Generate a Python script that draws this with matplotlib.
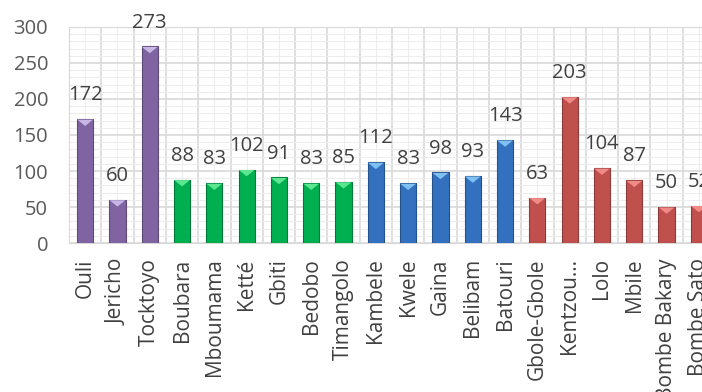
import matplotlib
matplotlib.use("Agg")
import matplotlib.pyplot as plt
import numpy as np
from matplotlib.ticker import MultipleLocator

categories = ["Ouli", "Jericho", "Tocktoyo", "Boubara", "Mboumama", "Ketté", "Gbiti",
              "Bedobo", "Timangolo", "Kambele", "Kwele", "Gaina", "Belibam", "Batouri",
              "Gbole-Gbole", "Kentzou…", "Lolo", "Mbile", "Bombe Bakary", "Bombe Sato"]
values = [172, 60, 273, 88, 83, 102, 91, 83, 85, 112, 83, 98, 93, 143, 63, 203, 104, 87, 50, 52]
groups = ["purple"] * 3 + ["green"] * 6 + ["blue"] * 5 + ["red"] * 6

colors = {"purple": "#8064A2", "green": "#00B050", "blue": "#3370BE", "red": "#C0504D"}
edges = {"purple": "#5E4A7A", "green": "#007A38", "blue": "#24528C", "red": "#8E3A38"}
tops = {"purple": "#C9B6E6", "green": "#5CE68F", "blue": "#7FC0F2", "red": "#F08A87"}

plt.rcParams['font.family'] = ['Open Sans', 'DejaVu Sans']

fig = plt.figure(figsize=(7.02, 3.92), dpi=100)
ax = fig.add_axes([69 / 702, 1 - 243 / 392, 646 / 702, 216 / 392])

x = np.arange(len(categories))
ax.bar(x, values, width=0.5, color=[colors[g] for g in groups],
       edgecolor=[edges[g] for g in groups], linewidth=0.8, zorder=3)
tri = [(-1, 0.4), (1, 0.4), (0, -0.4), (-1, 0.4)]
ax.scatter(x, np.array(values) - 5, marker=tri, s=130, c=[tops[g] for g in groups],
           zorder=4, linewidths=0)

for xi, v in zip(x, values):
    ax.annotate(str(v), (xi, v), xytext=(0, 10), textcoords='offset points',
                ha='center', va='bottom', fontsize=14.5, color='#404040')

ax.set_xlim(-0.5, len(categories) - 0.5)
ax.set_ylim(0, 300)
ax.yaxis.set_major_locator(MultipleLocator(50))
ax.yaxis.set_minor_locator(MultipleLocator(10))
ax.set_xticks(x)
ax.set_xticklabels(categories, rotation=90, fontsize=15, color='#404040')
ax.set_xticks(np.arange(-0.5, len(categories), 1), minor=True)
ax.tick_params(axis='y', labelsize=14.5, labelcolor='#595959', length=0, which='both', pad=15)
ax.tick_params(axis='x', length=0, which='both', pad=11)

ax.grid(True, which='major', axis='y', color='#D9D9D9', linewidth=1.2, zorder=0)
ax.grid(True, which='minor', axis='y', color='#EDEDED', linewidth=0.8, zorder=0)
ax.grid(True, which='minor', axis='x', color='#D9D9D9', linewidth=1.2, zorder=0)
ax.grid(True, which='major', axis='x', color='#EDEDED', linewidth=0.8, zorder=0)
for s in ax.spines.values():
    s.set_color('#D9D9D9')

fig.savefig("out.png", dpi=100)
